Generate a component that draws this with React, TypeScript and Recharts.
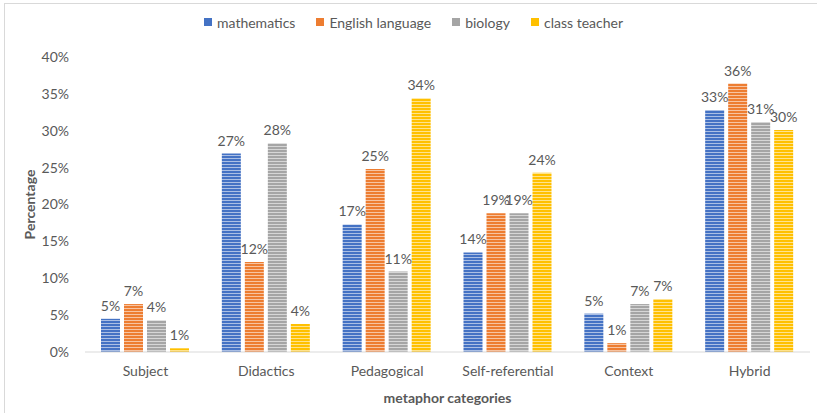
import { Bar, BarChart, LabelList, Legend, XAxis, YAxis } from 'recharts'

const categories = ['Subject', 'Didactics', 'Pedagogical', 'Self-referential', 'Context', 'Hybrid']
const mathematics = [4.5, 26.9, 17.3, 13.5, 5.2, 32.8]
const english = [6.5, 12.2, 24.8, 18.8, 1.2, 36.4]
const biology = [4.3, 28.3, 10.9, 18.8, 6.5, 31.2]
const classTeacher = [0.5, 3.8, 34.4, 24.3, 7.2, 30.1]
const yTicks = [0, 5, 10, 15, 20, 25, 30, 35, 40]

const series = [
  { key: 'mathematics', color: '#4472C4' },
  { key: 'English language', color: '#ED7D31' },
  { key: 'biology', color: '#A5A5A5' },
  { key: 'class teacher', color: '#FFC000' },
]

const data = categories.map((name, i) => ({
  name,
  mathematics: mathematics[i],
  'English language': english[i],
  biology: biology[i],
  'class teacher': classTeacher[i],
}))

const font = 'Lato, "Open Sans", sans-serif'
const textColor = '#595959'

function LegendRow() {
  return (
    <div style={{ display: 'flex', justifyContent: 'center', gap: 21, fontSize: 14, color: textColor, height: 20, alignItems: 'center', paddingLeft: 10 }}>
      {series.map((s) => (
        <span key={s.key} style={{ display: 'flex', alignItems: 'center', gap: 5 }}>
          <span style={{ width: 8, height: 8, background: s.color, display: 'inline-block' }} />
          {s.key}
        </span>
      ))}
    </div>
  )
}

export default function App() {
  return (
    <div style={{ position: 'absolute', left: 0, top: 0, width: 817, height: 413, background: '#fff', fontFamily: font }}>
      <div
        style={{
          position: 'absolute',
          left: 4,
          top: 3,
          width: 830,
          height: 430,
          border: '1px solid #d9d9d9',
        }}
      />
      <BarChart
        width={817}
        height={413}
        data={data}
        margin={{ top: 37, right: 7, left: 8, bottom: 0 }}
        barSize={19}
        barGap={4}
      >
        <defs>
          {series.map((s, i) => (
            <pattern key={s.key} id={`stripe-${i}`} width={4} height={3} patternUnits="userSpaceOnUse">
              <rect width={4} height={3} fill={s.color} />
              <rect y={2} width={4} height={1} fill="rgba(255,255,255,0.55)" />
            </pattern>
          ))}
        </defs>
        <Legend verticalAlign="top" align="center" content={() => <LegendRow />} wrapperStyle={{ top: 12, left: 0, width: 817 }} />
        <XAxis
          dataKey="name"
          tickLine={false}
          axisLine={{ stroke: '#d9d9d9' }}
          tick={{ fontSize: 14, fill: textColor }}
          tickMargin={8}
          height={61}
          label={{
            value: 'metaphor categories',
            position: 'insideBottom',
            offset: 10,
            style: { fontSize: 14, fontWeight: 700, fill: textColor },
          }}
        />
        <YAxis
          domain={[0, 40]}
          ticks={yTicks}
          tickFormatter={(v: number) => `${v}%`}
          axisLine={false}
          tickLine={false}
          tick={{ fontSize: 14, fill: textColor }}
          width={77}
          tickMargin={10}
          label={{
            value: 'Percentage',
            angle: -90,
            position: 'insideLeft',
            offset: 22,
            style: { textAnchor: 'middle', fontSize: 14, fontWeight: 700, fill: textColor },
          }}
        />
        {series.map((s, i) => (
          <Bar key={s.key} dataKey={s.key} fill={`url(#stripe-${i})`} isAnimationActive={false}>
            <LabelList
              dataKey={s.key}
              position="top"
              offset={8}
              formatter={(v: number) => `${Math.round(v)}%`}
              style={{ fontSize: 14, fill: textColor }}
            />
          </Bar>
        ))}
      </BarChart>
    </div>
  )
}
